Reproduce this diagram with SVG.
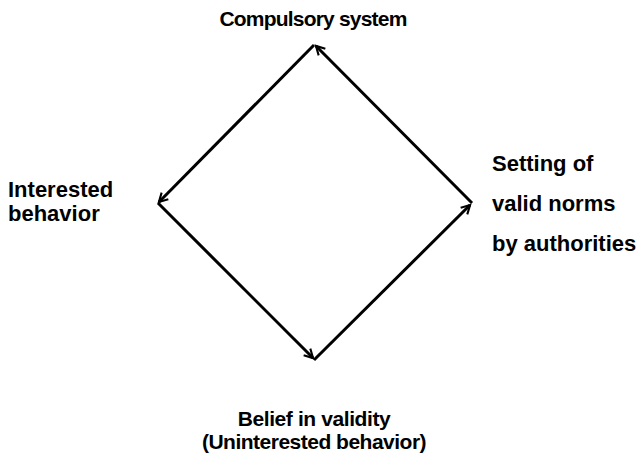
<svg xmlns="http://www.w3.org/2000/svg" width="640" height="464" viewBox="0 0 640 464">
  <style>
    .lbl { font-family: "Liberation Sans", Arial, sans-serif; font-weight: bold; font-size: 21px; fill: #000; }
    .side { font-size: 22px; }
    .edge { stroke: #000; stroke-width: 3; fill: none; marker-end: url(#head); }
  </style>
  <defs>
    <marker id="head" viewBox="0 0 12 12" refX="11" refY="6" markerWidth="6" markerHeight="6" markerUnits="userSpaceOnUse" orient="auto" overflow="visible">
      <path d="M0,0 L11,6 L0,12" fill="none" stroke="#000" stroke-width="3" stroke-linecap="square" transform="scale(1.4) translate(-3,-1.7)"/>
    </marker>
  </defs>
  <rect width="640" height="464" fill="#fff"/>
  <g id="connectors">
    <line class="edge" x1="472" y1="203" x2="316" y2="46"/>
    <line class="edge" x1="314" y1="45" x2="159" y2="202"/>
    <line class="edge" x1="158" y1="203" x2="313" y2="358"/>
    <line class="edge" x1="314" y1="360" x2="470" y2="205"/>
  </g>
  <g id="compulsory">
    <text class="lbl" x="313" y="26" text-anchor="middle" letter-spacing="-0.8">Compulsory system</text>
  </g>
  <g id="interested">
    <text class="lbl side" x="8" y="197">Interested</text>
    <text class="lbl side" x="8" y="221">behavior</text>
  </g>
  <g id="setting">
    <text class="lbl side" x="492" y="171">Setting of</text>
    <text class="lbl side" x="492" y="211">valid norms</text>
    <text class="lbl side" x="492" y="251">by authorities</text>
  </g>
  <g id="belief">
    <text class="lbl" x="314" y="426" text-anchor="middle" letter-spacing="-0.4">Belief in validity</text>
    <text class="lbl" x="314" y="449" text-anchor="middle" letter-spacing="-0.5">(Uninterested behavior)</text>
  </g>
</svg>
